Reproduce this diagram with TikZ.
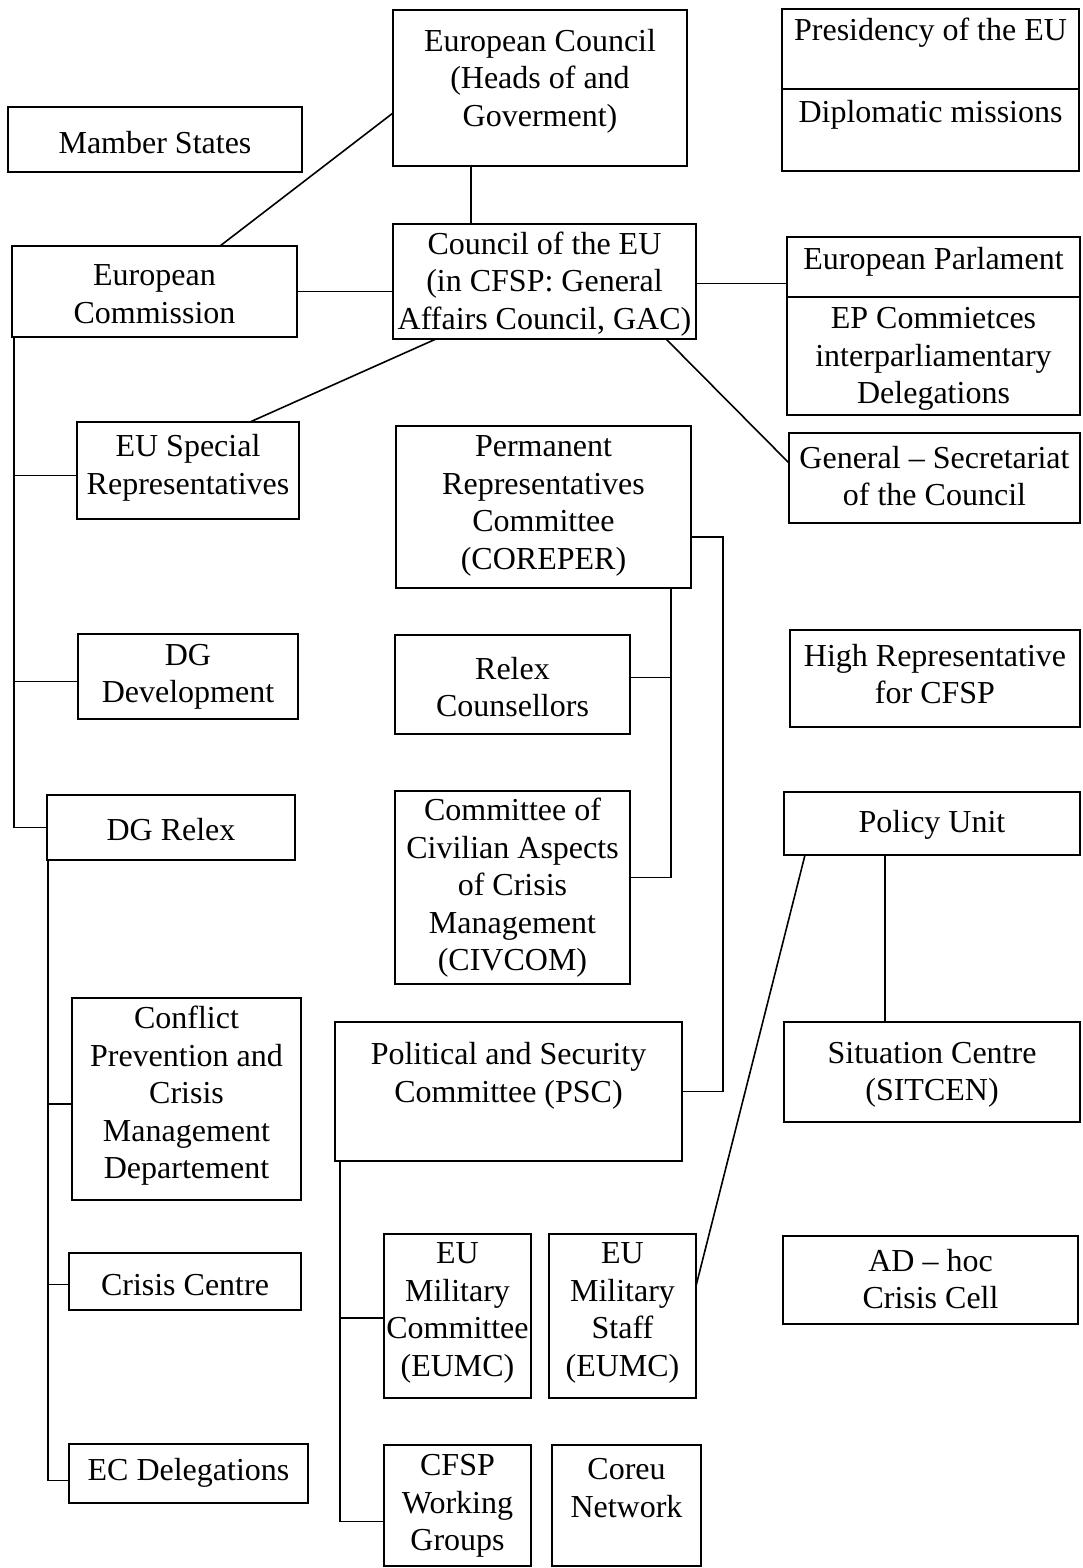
\documentclass[tikz,border=0pt]{standalone}
\usepackage{fontspec}
\setmainfont{Liberation Serif}
\usetikzlibrary{fit,calc}
\tikzset{
  box/.style={draw=black, line width=1.6pt, inner sep=0pt, outer sep=0pt},
  lbl/.style={font=\fontsize{32}{37.5}\selectfont, align=center, inner sep=0pt, text=black},
  conn/.style={draw=black, line width=1.6pt}
}
\newcommand\obox[7]{%
  \node[box, fit={(#2,#3) (#4,#5)}] (#1) {};
  \node[lbl] (#1-t) at ({(#2+#4)/2},{#6+3}) {#7};}
\begin{document}
\begin{tikzpicture}[x=1pt,y=-1pt]
\fill[white] (0,0) rectangle (1082,1568);
\useasboundingbox (0,0) rectangle (1082,1568);
% boxes
\obox{ecou}{393}{10}{687}{166}{78}{European Council\\(Heads of and\\Goverment)}
\obox{pres}{782}{9}{1079}{89}{30}{Presidency of the EU}
\obox{dipl}{782}{89}{1079}{171}{112}{Diplomatic missions}
\obox{ms}{8}{107}{302}{172}{140}{Mamber States}
\obox{com}{12}{246}{297}{337}{291}{European\\Commission}
\obox{cou}{393}{224}{696}{339}{281}{Council of the EU\\(in CFSP: General\\Affairs Council, GAC)}
\obox{ep}{787}{237}{1080}{297}{259}{European Parlament}
\obox{epc}{787}{297}{1080}{415}{356}{EP Commietces\\interparliamentary\\Delegations}
\obox{gs}{789}{433}{1080}{523}{473}{General -- Secretariat\\of the Council}
\obox{esr}{77}{422}{299}{519}{465}{EU Special\\Representatives}
\obox{corep}{396}{426}{691}{588}{503}{Permanent\\Representatives\\Committee\\(COREPER)}
\obox{dgd}{78}{634}{298}{719}{674}{DG\\Development}
\obox{rc}{395}{635}{630}{734}{684}{Relex\\Counsellors}
\obox{hr}{790}{630}{1080}{727}{671}{High Representative\\for CFSP}
\obox{dgr}{47}{795}{295}{860}{827}{DG Relex}
\obox{civ}{395}{791}{630}{984}{885}{Committee of\\Civilian Aspects\\of Crisis\\Management\\(CIVCOM)}
\obox{pu}{784}{792}{1080}{855}{822}{Policy Unit}
\obox{cp}{72}{998}{301}{1200}{1093}{Conflict\\Prevention and\\Crisis\\Management\\Departement}
\obox{psc}{335}{1022}{682}{1161}{1073}{Political and Security\\Committee (PSC)}
\obox{sit}{784}{1022}{1080}{1122}{1072}{Situation Centre\\(SITCEN)}
\obox{cc}{69}{1253}{301}{1310}{1282}{Crisis Centre}
\obox{emc}{384}{1234}{531}{1398}{1310}{EU\\Military\\Committee\\(EUMC)}
\obox{ems}{549}{1234}{696}{1398}{1310}{EU\\Military\\Staff\\(EUMC)}
\obox{adh}{783}{1236}{1078}{1324}{1276}{AD -- hoc\\Crisis Cell}
\obox{ecd}{69}{1444}{308}{1503}{1470}{EC Delegations}
\obox{cfsp}{384}{1445}{531}{1566}{1503}{CFSP\\Working\\Groups}
\obox{cor}{552}{1445}{701}{1566}{1485}{Coreu\\Network}
% connectors
\draw[conn] ([xshift=78pt]ecou.south west) -- ([xshift=78pt]cou.north west);
\draw[conn] ([xshift=208pt]com.north west) -- ([yshift=-25pt]ecou.west);
\draw[conn] (com.east) -- (com.east -| cou.west);
\draw[conn] ([yshift=-2pt]cou.east) -- ([yshift=-2pt]cou.east -| ep.west);
\draw[conn] ([xshift=-30pt]cou.south east) -- ([yshift=15pt]gs.west);
\draw[conn] ([xshift=43pt]cou.south west) -- ([xshift=173pt]esr.north west);
% left trunk
\coordinate (t1) at ([xshift=2pt]com.south west);
\draw[conn] (t1) |- (dgr.west);
\draw[conn] ([yshift=-5pt]esr.west) -- ([yshift=-5pt]esr.west -| t1);
\draw[conn] ([yshift=-5pt]dgd.west) -- ([yshift=-5pt]dgd.west -| t1);
% DG Relex trunk
\coordinate (t2) at ([xshift=1pt]dgr.south west);
\draw[conn] (t2) |- ([yshift=-7pt]ecd.west);
\draw[conn] ([yshift=-5pt]cp.west) -- ([yshift=-5pt]cp.west -| t2);
\draw[conn] ([yshift=-3pt]cc.west) -- ([yshift=-3pt]cc.west -| t2);
% COREPER
\draw[conn] ([yshift=-30pt]corep.east) -| ([xshift=41pt]psc.east) -- (psc.east);
\coordinate (t3) at ([xshift=-20pt]corep.south east);
\draw[conn] (t3) |- ([yshift=10pt]civ.east);
\draw[conn] ([yshift=7pt]rc.east) -- ([yshift=7pt]rc.east -| t3);
% Policy unit
\draw[conn] ([xshift=101pt]pu.south west) -- ([xshift=101pt]sit.north west);
\draw[conn] ([xshift=21pt]pu.south west) -- ([yshift=30pt]ems.east);
% PSC trunk
\coordinate (t4) at ([xshift=5pt]psc.south west);
\draw[conn] (t4) |- ([yshift=-16pt]cfsp.west);
\draw[conn] ([yshift=-2pt]emc.west) -- ([yshift=-2pt]emc.west -| t4);
\end{tikzpicture}
\end{document}
